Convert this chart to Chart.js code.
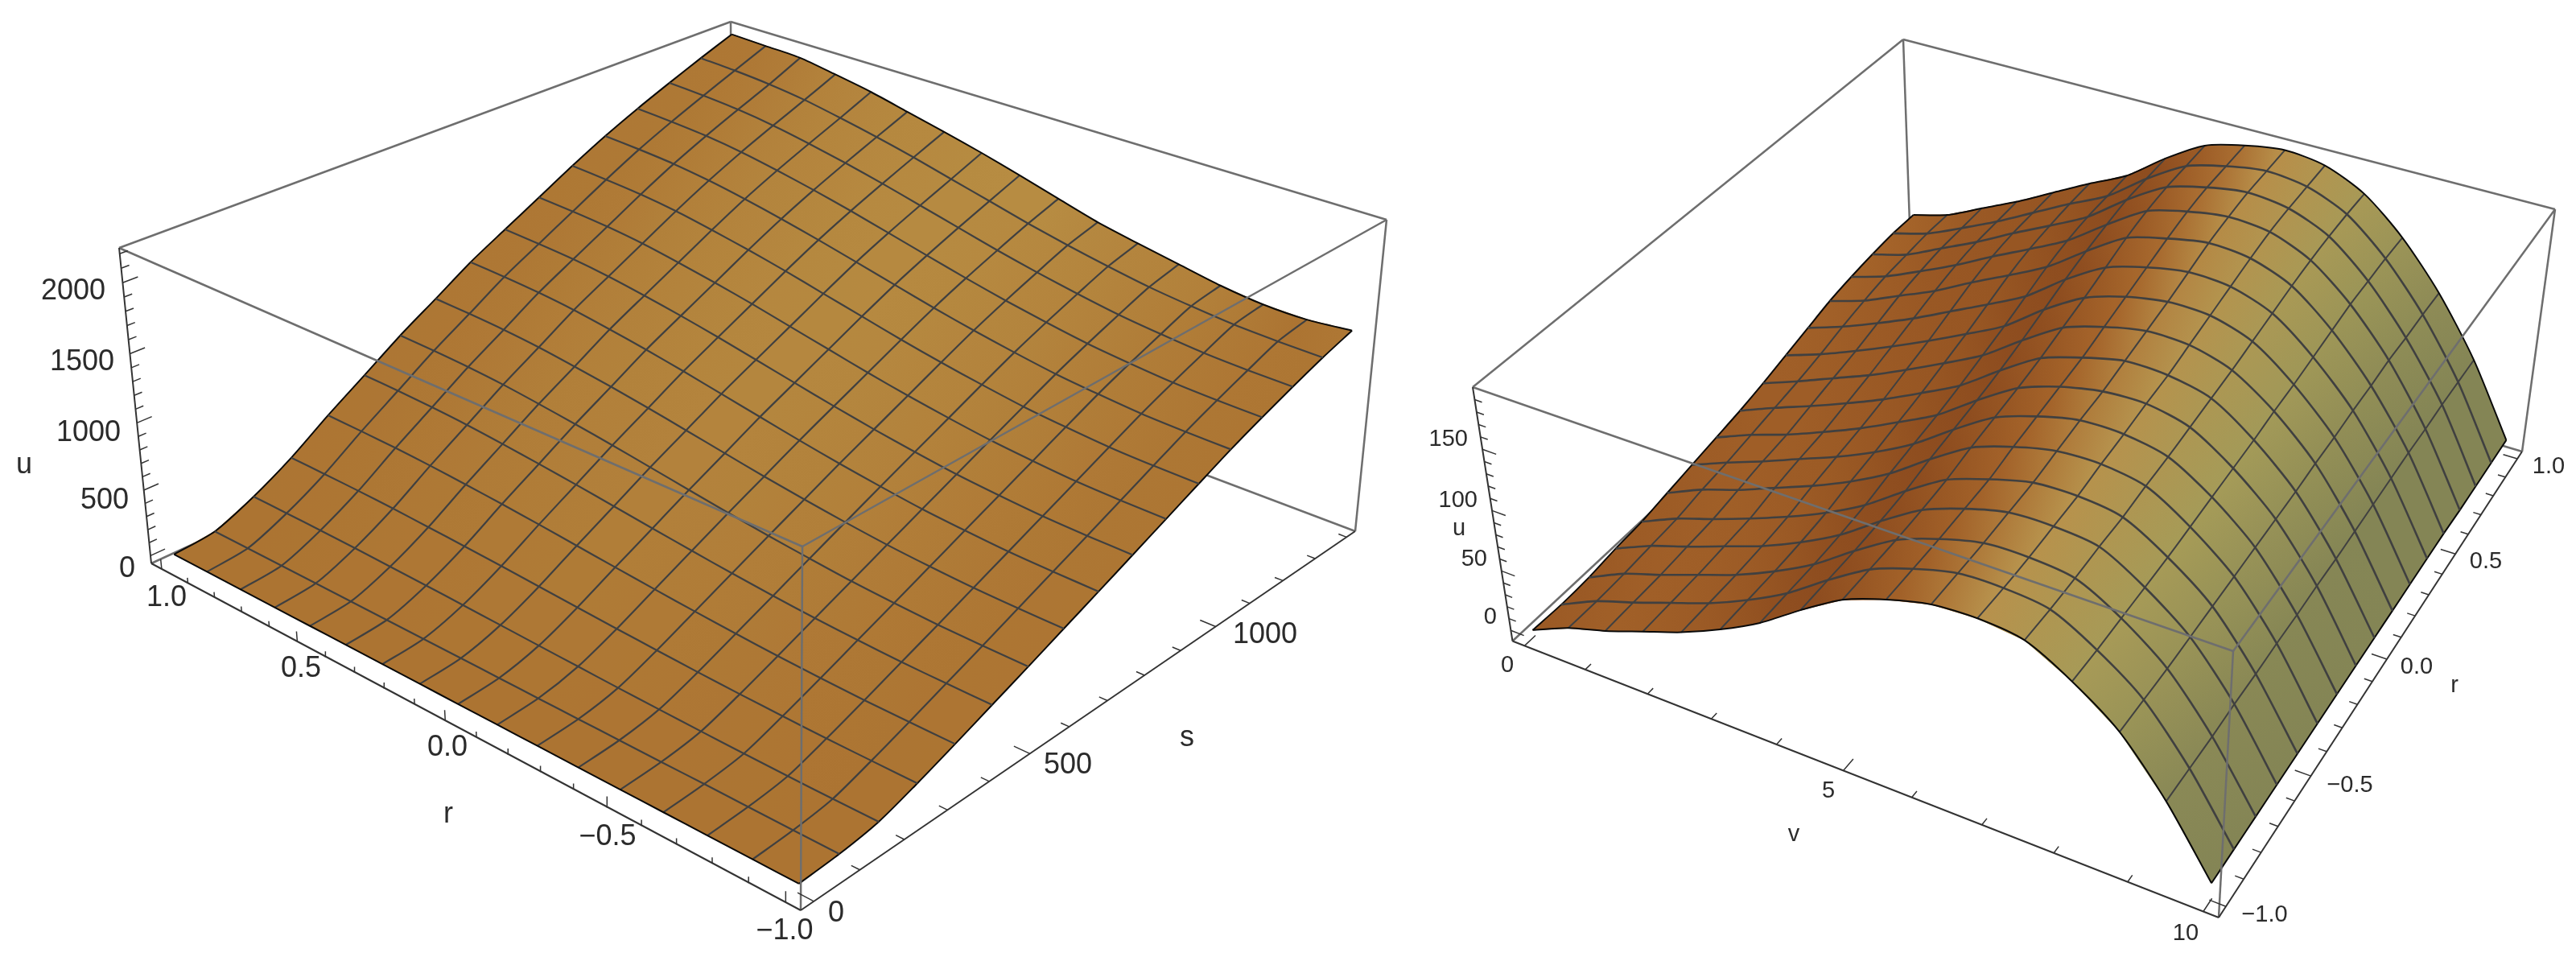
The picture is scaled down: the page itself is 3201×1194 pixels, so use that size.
<!DOCTYPE html>
<html><head><meta charset="utf-8">
<style>html,body{margin:0;padding:0;background:#fff}canvas{position:absolute;top:0}</style>
<script src="https://cdn.jsdelivr.net/npm/chart.js@4"></script>
</head><body>
<canvas id="left" width="1760" height="1194" style="left:0"></canvas>
<canvas id="right" width="1441" height="1194" style="left:1760px"></canvas>
<script>
// ---------- left surface: u(s, r), rows = s index, columns = r from 1 to -1 ----------
const leftR = [1,0.875,0.75,0.625,0.5,0.375,0.25,0.125,0,-0.125,-0.25,-0.375,-0.5,-0.625,-0.75,-0.875,-1];
const leftS = [0,87.5,175,262.5,350,437.5,525,612.5,700,787.5,875,962.5,1050,1137.5,1225,1312.5,1400];
const leftU = [
[5,5,5,5,5,5,5,5,5,5,5,5,5,5,5,5,5],
[37,37,36,36,35,34,33,32,31,29,28,27,26,26,24,23,22],
[165,163,160,155,147,139,129,119,108,98,88,80,73,67,63,61,62],
[330,326,321,312,299,285,269,251,233,215,199,184,172,163,155,152,150],
[527,521,513,499,480,458,433,405,377,350,325,303,283,269,258,253,250],
[710,703,692,675,650,621,589,554,518,483,451,422,398,380,366,359,355],
[895,886,873,852,821,786,747,704,660,617,577,543,512,490,473,464,460],
[1060,1050,1035,1011,976,937,893,844,794,745,701,661,627,602,583,573,568],
[1228,1217,1200,1173,1134,1090,1040,985,930,875,825,781,742,715,693,682,676],
[1370,1358,1341,1312,1271,1224,1171,1113,1054,996,943,896,855,826,803,791,785],
[1510,1498,1479,1449,1405,1356,1301,1239,1178,1116,1061,1012,969,938,913,901,895],
[1650,1637,1618,1586,1540,1489,1431,1366,1302,1237,1179,1128,1082,1050,1024,1011,1005],
[1780,1767,1747,1713,1667,1613,1553,1487,1420,1353,1293,1240,1193,1160,1133,1120,1113],
[1895,1881,1861,1827,1779,1724,1662,1594,1525,1457,1395,1340,1292,1258,1231,1217,1210],
[2000,1986,1965,1930,1881,1825,1762,1692,1622,1552,1489,1433,1384,1349,1321,1307,1300],
[2100,2086,2064,2029,1978,1921,1857,1785,1714,1642,1578,1521,1471,1435,1406,1392,1385],
[2195,2185,2175,2130,2080,2015,1950,1880,1803,1720,1640,1580,1525,1470,1435,1430,1458]
];
// ---------- right surface: u(r, v), rows = r from -1 to 1, columns = v ----------
const rightV = [0,0.625,1.25,1.875,2.5,3.125,3.75,4.375,5,5.625,6.25,6.875,7.5,8.125,8.75,9.375,10];
const rightR = [-1,-0.875,-0.75,-0.625,-0.5,-0.375,-0.25,-0.125,0,0.125,0.25,0.375,0.5,0.625,0.75,0.875,1];
const rightU = [
[-3,11,21,33,45,60,78,101,122,135,144,146,142,123,97,56,5],
[-4,11,22,34,46,61,79,102,123,136,145,146,142,123,97,56,5],
[-3,12,23,35,47,62,80,103,124,137,146,147,143,124,97,56,5],
[0,14,25,37,49,64,82,105,126,139,148,149,145,125,98,57,5],
[2,16,27,39,52,67,85,108,129,141,150,151,146,126,99,57,5],
[6,20,31,44,57,72,90,113,134,146,154,155,149,128,100,58,5],
[10,23,35,48,61,76,94,117,138,150,158,158,151,130,101,58,5],
[14,27,38,51,65,81,98,121,142,154,161,162,154,132,102,59,5],
[18,31,43,56,70,86,103,126,147,158,166,165,157,134,103,59,5],
[23,35,48,61,76,92,109,132,153,164,171,170,160,137,105,60,5],
[29,40,53,67,82,98,115,139,159,170,176,175,164,139,106,61,5],
[35,46,59,73,89,105,122,146,166,176,182,180,168,142,108,62,5],
[41,51,65,79,96,112,129,152,173,182,188,185,172,145,109,63,5],
[45,55,69,84,101,117,134,157,178,187,192,189,175,148,111,63,4],
[48,57,72,87,104,120,137,161,181,190,195,191,177,149,111,64,4],
[50,59,73,88,105,122,138,162,182,191,196,192,178,150,112,64,4],
[50,59,74,89,106,123,139,163,183,192,197,193,178,150,112,64,4]
];
// ---------- axis ticks ----------
const leftUMajor=[0,500,1000,1500,2000], leftUMinor=[100,200,300,400,600,700,800,900,1100,1200,1300,1400,1600,1700,1800,1900,2100,2200];
const leftRMajor=[-1,-0.5,0,0.5,1], leftRMinor=[-0.9,-0.8,-0.7,-0.6,-0.4,-0.3,-0.2,-0.1,0.1,0.2,0.3,0.4,0.6,0.7,0.8,0.9];
const leftSMajor=[0,500,1000], leftSMinor=[100,200,300,400,600,700,800,900,1100,1200,1300,1400];
const rightUMajor=[0,50,100,150], rightUMinor=[10,20,30,40,60,70,80,90,110,120,130,140,160,170,180,190];
const rightVMajor=[0,5,10], rightVMinor=[1,2,3,4,6,7,8,9];
const rightRMajor=leftRMajor, rightRMinor=leftRMinor;
// ---------- text ----------
const leftLabels=[["2000",131,362,"right"],["1500",142,450,"right"],["1000",150,538,"right"],["500",160,622,"right"],["0",168,707,"right"],["u",30,578,"center"],
["1.0",207,743,"center"],["0.5",374,831,"center"],["0.0",556,929,"center"],["\u22120.5",755,1040,"center"],["\u22121.0",975,1157,"center"],["r",557,1012,"center"],
["0",1039,1135,"center"],["500",1327,951,"center"],["1000",1572,789,"center"],["s",1475,917,"center"]];
const rightLabels=[["150",1824,546,"right"],["100",1836,622,"right"],["50",1848,695,"right"],["0",1860,767,"right"],["u",1813,657,"center"],
["0",1873,827,"center"],["5",2272,983,"center"],["10",2716,1160,"center"],["v",2229,1037,"center"],
["\u22121.0",2814,1137,"center"],["\u22120.5",2920,976,"center"],["0.0",3003,829,"center"],["r",3050,852,"center"],["0.5",3089,698,"center"],["1.0",3167,580,"center"]];

function mix(a,b,f){return a.map((v,i)=>v+(b[i]-v)*f);}
function ramp(stops,s){
  if(s<=stops[0][0])return stops[0][1];
  for(let i=1;i<stops.length;i++){if(s<=stops[i][0])return mix(stops[i-1][1],stops[i][1],(s-stops[i-1][0])/(stops[i][0]-stops[i-1][0]));}
  return stops[stops.length-1][1];
}
function hom(p){
  const [x0,y0]=p[0],[x1,y1]=p[1],[x2,y2]=p[2],[x3,y3]=p[3];
  const dx1=x1-x2,dx2=x3-x2,sx=x0-x1+x2-x3,dy1=y1-y2,dy2=y3-y2,sy=y0-y1+y2-y3,den=dx1*dy2-dx2*dy1;
  const g=(sx*dy2-dx2*sy)/den,h=(dx1*sy-sx*dy1)/den;
  const A=x1-x0+g*x1,B=x3-x0+h*x3,D=y1-y0+g*y1,E=y3-y0+h*y3;
  return (a,b)=>{const w=g*a+h*b+1;return [(A*a+B*b+x0)/w,(D*a+E*b+y0)/w];};
}
function makeProjector(box){
  const f0=hom(box.bottom),f1=hom(box.top);
  return (a,b,t)=>{const p=f0(a,b),q=f1(a,b),w=(1-t)+t*box.k;
    return {x:((1-t)*p[0]+t*box.k*q[0])/w,y:((1-t)*p[1]+t*box.k*q[1])/w};};
}
function labelPlugin(labels,font){return {id:'labels',afterDraw(chart){
  const c=chart.ctx,X=chart.scales.x,Y=chart.scales.y;c.save();c.fillStyle='#2b2b2b';c.textBaseline='middle';
  labels.forEach(l=>{c.font=font+'px "Liberation Sans"';c.textAlign=l[3];c.fillText(l[0],X.getPixelForValue(l[1]),Y.getPixelForValue(l[2]));});
  c.restore();}};}
// fills each mesh cell from the element positions the library computed, shaded across the cell
const quadFill={id:'quadFill',beforeDatasetDraw(chart,args){
  const ds=chart.data.datasets[args.index];if(!ds.quad)return;
  const p=args.meta.data,c=chart.ctx;
  const g=c.createLinearGradient((p[0].x+p[3].x)/2,(p[0].y+p[3].y)/2,(p[1].x+p[2].x)/2,(p[1].y+p[2].y)/2);
  g.addColorStop(0,ds.quad[0]);g.addColorStop(1,ds.quad[1]);
  c.save();c.beginPath();
  p.forEach((q,i)=>i?c.lineTo(q.x,q.y):c.moveTo(q.x,q.y));c.closePath();
  c.fillStyle=g;c.fill();c.strokeStyle=g;c.lineWidth=1;c.stroke();c.restore();}};

function build(id,cfg){
  const P=makeProjector(cfg.box),ds=[];
  const add=(data,o)=>ds.push(Object.assign({data,showLine:true,pointRadius:0,borderWidth:2,fill:false,tension:0,borderColor:'#000'},o));
  const seg=(a,b)=>[P(...a),P(...b)];
  const GRAY='#6e6e6e',AX='#333333';
  const [a0,a1,b0,b1]=[0,1,0,1];
  add(seg([a0,b0,1],[a0,b1,1]),{borderColor:GRAY,borderWidth:2.5});
  add(seg([a0,b1,1],[a1,b1,1]),{borderColor:GRAY,borderWidth:2.5});
  add(seg([a0,b1,0],[a0,b1,1]),{borderColor:GRAY,borderWidth:2.5});
  add(seg([a0,b0,0],[a0,b1,0]),{borderColor:GRAY,borderWidth:2.5});
  add(seg([a0,b1,0],[a1,b1,0]),{borderColor:GRAY,borderWidth:2.5});
  add(seg([a1,b1,0],[a1,b1,1]),{borderColor:GRAY,borderWidth:2.5});
  const n=16,G=(i,j)=>P(cfg.ax(i),cfg.bx(j),cfg.tx(cfg.val(i,j)));
  // shade at a mesh line: slope across it, averaged over the cell's two rows
  const lineSlope=(i,j)=>{const l=Math.max(i-1,0),h=Math.min(i+1,n);
    return ((cfg.val(h,j)-cfg.val(l,j))+(cfg.val(h,j+1)-cfg.val(l,j+1)))/2/(h-l);};
  const shade=(i,j)=>`rgb(${ramp(cfg.stops,cfg.slope(lineSlope(i,j))).map(Math.round)})`;
  for(const j of cfg.bOrder)for(const i of cfg.aOrder){
    add([G(i,j),G(i+1,j),G(i+1,j+1),G(i,j+1)],{quad:[shade(i,j),shade(i+1,j)],showLine:false});
  }
  for(let i=0;i<=n;i++){const d=[];for(let j=0;j<=n;j++)d.push(G(i,j));
    const e=(i===0||i===n);add(d,{tension:0.25,borderColor:e?'#0a0a0a':'#404040',borderWidth:e?2:cfg.lw[0]});}
  for(let j=0;j<=n;j++){const d=[];for(let i=0;i<=n;i++)d.push(G(i,j));
    const e=(j===0||j===n);add(d,{tension:0.25,borderColor:e?'#0a0a0a':'#404040',borderWidth:e?2:cfg.lw[1]});}
  add(seg([a0,b0,1],[a1,b0,1]),{borderColor:GRAY,borderWidth:2.5});
  add(seg([a1,b0,1],[a1,b1,1]),{borderColor:GRAY,borderWidth:2.5});
  add(seg([a1,b0,1],[a1,b0,0]),{borderColor:GRAY,borderWidth:2.5});
  cfg.axes.forEach(A=>{
    add(seg(A.from,A.to),{borderColor:AX,borderWidth:2});
    const d=[];
    A.major.forEach(v=>{const q=A.at(v);d.push(P(...q),P(q[0]+A.dir[0]*1.9,q[1]+A.dir[1]*1.9,q[2]+A.dir[2]*1.9),{x:NaN,y:NaN});});
    A.minor.forEach(v=>{const q=A.at(v);d.push(P(...q),P(...q.map((c,k)=>c+A.dir[k])),{x:NaN,y:NaN});});
    add(d,{borderColor:AX,borderWidth:1.5,spanGaps:false});
  });
  ds.forEach((d,i)=>d.order=ds.length-i);
  new Chart(document.getElementById(id),{type:'scatter',data:{datasets:ds},
    options:{responsive:false,animation:false,layout:{padding:0},
      plugins:{legend:{display:false},tooltip:{enabled:false}},
      scales:{x:{type:'linear',display:false,min:cfg.xMin,max:cfg.xMax},y:{type:'linear',display:false,min:0,max:1194,reverse:true}}},
    plugins:[quadFill,labelPlugin(cfg.labels,cfg.font)]});
}
const up=(a,b)=>{const r=[];for(let i=a;i<b;i++)r.push(i);return r;};
const Lr=r=>(1.04-r)/2.08, Ls=s=>(s+28)/1456, Lu=u=>(u+60)/2300;
build('left',{xMin:0,xMax:1760,labels:leftLabels,font:36,lw:[2.2,2.2],
  box:{k:0.94,bottom:[[188,700],[995,1131],[1684,660],[910,368]],top:[[148,308],[997,679],[1723,273],[908,27]]},
  ax:i=>Lr(leftR[i]),bx:j=>Ls(leftS[j]),tx:Lu,val:(i,j)=>leftU[j][i],
  aOrder:up(0,16),bOrder:up(0,16).reverse(),
  slope:d=>Math.abs(d)/2300/0.0601,
  stops:[[0,[172,116,50]],[0.15,[175,122,54]],[0.55,[183,140,66]]],
  axes:[
   {from:[0,0,0],to:[0,0,1],at:v=>[0,0,Lu(v)],major:leftUMajor,minor:leftUMinor,dir:[0,0.011,0]},
   {from:[0,0,0],to:[1,0,0],at:v=>[Lr(v),0,0],major:leftRMajor,minor:leftRMinor,dir:[0,0,0.017]},
   {from:[1,0,0],to:[1,1,0],at:v=>[1,Ls(v),0],major:leftSMajor,minor:leftSMinor,dir:[-0.011,0,0]}
  ]});
const Rv=v=>(v+0.2)/10.4, Rr=r=>(r+1.04)/2.08, Ru=u=>(u+9)/209;
build('right',{xMin:1760,xMax:3201,labels:rightLabels,font:29,lw:[2,2.6],
  box:{k:0.97,bottom:[[1879.5,796.5],[2757,1140],[3134,561],[2375,335]],top:[[1830,481],[2775,809],[3175,260],[2365,49]]},
  ax:k=>Rv(rightV[k]),bx:m=>Rr(rightR[m]),tx:Ru,val:(k,m)=>rightU[m][k],
  aOrder:up(0,16),bOrder:up(0,16).reverse(),
  slope:d=>d/209/0.0601,
  stops:[[-4,[132,133,85]],[-2,[165,155,88]],[0,[184,145,75]],[0.7,[165,100,42]],[1.8,[140,75,30]],[3,[135,70,28]]],
  axes:[
   {from:[0,0,0],to:[0,0,1],at:v=>[0,0,Ru(v)],major:rightUMajor,minor:rightUMinor,dir:[0.011,0,0]},
   {from:[0,0,0],to:[1,0,0],at:v=>[Rv(v),0,0],major:rightVMajor,minor:rightVMinor,dir:[0,0.012,0]},
   {from:[1,0,0],to:[1,1,0],at:v=>[1,Rr(v),0],major:rightRMajor,minor:rightRMinor,dir:[-0.011,0,0]}
  ]});
</script>
</body></html>
